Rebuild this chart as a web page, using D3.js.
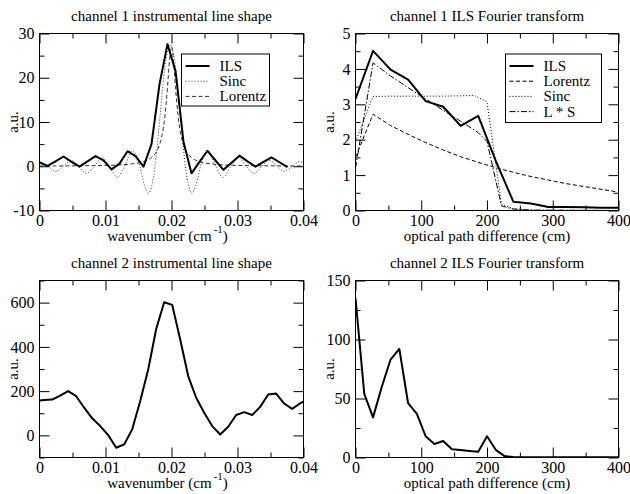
<!DOCTYPE html>
<html><head><meta charset="utf-8">
<script src="https://cdn.jsdelivr.net/npm/d3@7"></script>
<style>
body{margin:0;background:#fff}
</style>
</head><body><svg id="c" width="630" height="494"></svg>
<script>
// ---------- channel 1 instrumental line shape ----------
const ch1IlsX = [0, 0.00121, 0.00242, 0.00364, 0.00485, 0.00606, 0.00727, 0.00848, 0.00970, 0.01091, 0.01212, 0.01333, 0.01455, 0.01576, 0.01697, 0.01818, 0.01939, 0.02061, 0.02182, 0.02303, 0.02424, 0.02545, 0.02667, 0.02788, 0.02909, 0.03030, 0.03152, 0.03273, 0.03394, 0.03515, 0.03636, 0.03758];
const ch1IlsY = [0.9, 0.1, 1.1, 2.2, 1.0, -0.1, 1.1, 2.3, 1.3, -0.7, 0.6, 3.4, 2.3, -0.1, 5.0, 18.5, 27.6, 21.5, 5.5, -1.6, 1.0, 3.5, 1.3, -0.8, 0.8, 2.4, 1.1, -0.1, 1.0, 2.0, 0.9, -0.2];
const ch1SincX = [0, 0.0013, 0.0025, 0.0036, 0.0048, 0.0059, 0.0071, 0.0083, 0.0095, 0.0106, 0.0118, 0.0129, 0.0141, 0.0152, 0.0159, 0.0165, 0.0171, 0.0175, 0.0178, 0.0183, 0.0188, 0.0193, 0.0198, 0.0203, 0.0208, 0.0213, 0.0218, 0.0221, 0.0225, 0.0231, 0.0237, 0.0244, 0.0255, 0.0267, 0.0278, 0.0290, 0.0302, 0.0313, 0.0325, 0.0337, 0.0348, 0.0360, 0.0371, 0.0383, 0.0394, 0.0400];
const ch1SincY = [0.6, 0, -1.17, 0, 1.35, 0, -1.6, 0, 1.95, 0, -2.52, 0, 3.56, 0, -4.3, -6.1, -3.8, 0, 4.1, 12.0, 19.8, 25.4, 27.5, 25.4, 19.8, 12.0, 4.1, 0, -3.8, -6.1, -4.3, 0, 3.56, 0, -2.52, 0, 1.95, 0, -1.6, 0, 1.35, 0, -1.17, 0, 1.03, 0.8];
const ch1LorX = [0, 0.004, 0.008, 0.012, 0.014, 0.016, 0.017, 0.018, 0.0185, 0.019, 0.0194, 0.0197, 0.0200, 0.0203, 0.0206, 0.021, 0.0215, 0.022, 0.023, 0.024, 0.026, 0.028, 0.032, 0.036, 0.04];
const ch1LorY = [0.05, 0.08, 0.14, 0.30, 0.53, 1.17, 2.0, 4.1, 6.6, 11.3, 18.0, 24.0, 27.0, 24.0, 18.0, 11.3, 6.6, 4.1, 2.0, 1.17, 0.53, 0.30, 0.14, 0.08, 0.05];

// ---------- channel 1 ILS Fourier transform ----------
const ft1X = [0, 26.67, 53.33, 80, 106.67, 133.33, 160, 186.67, 213.33, 240, 266.67, 293.33, 320, 346.67, 373.33, 400];
const ft1Ils = [3.15, 4.51, 3.98, 3.70, 3.09, 2.93, 2.39, 2.67, 1.4, 0.25, 0.2, 0.1, 0.1, 0.09, 0.08, 0.08];
const ft1Lor = [1.5, 2.72, 2.40, 2.15, 1.92, 1.71, 1.52, 1.36, 1.21, 1.08, 0.96, 0.86, 0.76, 0.68, 0.60, 0.52];
const ft1SincX = [0, 26.67, 53.33, 80, 106.67, 133.33, 160, 180, 200, 222, 240, 270, 400];
const ft1SincY = [1.95, 3.22, 3.23, 3.23, 3.23, 3.23, 3.24, 3.25, 3.07, 0.18, 0.05, 0.01, 0.0];
const ft1LSX = [0, 26.67, 53.33, 80, 106.67, 133.33, 160, 186.67, 200, 222, 240, 270, 400];
const ft1LSY = [1.2, 4.17, 3.80, 3.47, 3.15, 2.83, 2.52, 2.2, 1.95, 0.13, 0.04, 0.01, 0.0];

// ---------- channel 2 instrumental line shape ----------
const ch2X = [0, 0.00071, 0.00192, 0.00313, 0.00435, 0.00556, 0.00677, 0.00798, 0.00920, 0.01041, 0.01162, 0.01283, 0.01404, 0.01526, 0.01647, 0.01768, 0.01889, 0.02010, 0.02132, 0.02253, 0.02374, 0.02495, 0.02617, 0.02738, 0.02859, 0.02980, 0.03101, 0.03223, 0.03344, 0.03465, 0.03586, 0.03707, 0.03829, 0.03950, 0.0400];
const ch2Y = [158, 160, 162, 180, 200, 177, 125, 77, 42, 1, -56, -41, 27, 155, 298, 481, 602, 590, 433, 268, 170, 102, 42, 4, 39, 92, 105, 92, 129, 185, 189, 144, 120, 145, 153];

// ---------- channel 2 ILS Fourier transform ----------
const ft2X = [0, 13.33, 26.67, 40, 53.33, 66.67, 80, 93.33, 106.67, 120, 133.33, 146.67, 160, 173.33, 186.67, 200, 213.33, 226.67, 240, 253.33, 266.67, 280, 293.33, 306.67, 320, 333.33, 346.67, 360, 373.33, 386.67, 400];
const ft2Y = [135, 54, 34, 60, 83, 92, 46, 37, 18, 11.5, 14, 7, 6.3, 5.5, 4.8, 18, 6.5, 1.2, 0.4, 0.3, 0.3, 0.3, 0.2, 0.2, 0.2, 0.3, 0.3, 0.2, 0.2, 0.2, 0.2];

// ---------- ticks ----------
const waveTicks = [0, 0.01, 0.02, 0.03, 0.04];
const waveLabels = ["0", "0.01", "0.02", "0.03", "0.04"];
const waveMinor = [0.005, 0.015, 0.025, 0.035];
const opdTicks = [0, 100, 200, 300, 400];
const opdLabels = ["0", "100", "200", "300", "400"];
const opdMinor = [50, 150, 250, 350];
const y1Ticks = [-10, 0, 10, 20, 30], y1Labels = ["-10", "0", "10", "20", "30"], y1Minor = [-5, 5, 15, 25];
const y2Ticks = [0, 1, 2, 3, 4, 5], y2Labels = ["0", "1", "2", "3", "4", "5"], y2Minor = [0.5, 1.5, 2.5, 3.5, 4.5];
const y3Ticks = [0, 200, 400, 600], y3Labels = ["0", "200", "400", "600"], y3Minor = [-100, 100, 300, 500, 700];
const y4Ticks = [0, 50, 100, 150], y4Labels = ["0", "50", "100", "150"], y4Minor = [25, 75, 125];

const FONT = '"Liberation Serif", "Times New Roman", serif';
const svg = d3.select('#c').style('font-family', FONT);
const defs = svg.append('defs');

function panel(o) {
  const x = d3.scaleLinear().domain(o.xd).range([o.l, o.r]);
  const y = d3.scaleLinear().domain(o.yd).range([o.b, o.t]);
  const g = svg.append('g');
  defs.append('clipPath').attr('id', 'cl' + o.id).append('rect')
    .attr('x', o.l).attr('y', o.t).attr('width', o.r - o.l).attr('height', o.b - o.t);
  o.series.forEach(s => {
    const line = d3.line().x((d, i) => x(s.x[i])).y(d => y(d)).curve(s.curve || d3.curveLinear);
    g.append('path').attr('d', line(s.y)).attr('clip-path', `url(#cl${o.id})`)
      .attr('fill', 'none').attr('stroke', s.c || '#000').attr('stroke-width', s.w)
      .attr('stroke-dasharray', s.dash || null).attr('stroke-linejoin', 'round');
  });
  const style = sel => {
    sel.select('.domain').remove();
    sel.attr('font-family', null).attr('font-size', null);
    sel.selectAll('text').style('font-family', FONT).style('font-size', '16px').attr('fill', '#000');
    sel.selectAll('line').attr('stroke', '#000');
  };
  const fmt = labels => (d, i) => labels[i];
  g.append('g').attr('transform', `translate(0,${o.b})`)
    .call(d3.axisBottom(x).tickValues(o.xt).tickSize(-10).tickPadding(4).tickFormat(fmt(o.xl))).call(style);
  g.append('g').attr('transform', `translate(0,${o.b})`)
    .call(d3.axisBottom(x).tickValues(o.xm).tickSize(-5).tickFormat('')).call(style);
  g.append('g').attr('transform', `translate(0,${o.t})`)
    .call(d3.axisTop(x).tickValues(o.xt).tickSize(-10).tickFormat('')).call(style);
  g.append('g').attr('transform', `translate(0,${o.t})`)
    .call(d3.axisTop(x).tickValues(o.xm).tickSize(-5).tickFormat('')).call(style);
  g.append('g').attr('transform', `translate(${o.l},0)`)
    .call(d3.axisLeft(y).tickValues(o.yt).tickSize(-10).tickPadding(5).tickFormat(fmt(o.yl))).call(style);
  g.append('g').attr('transform', `translate(${o.l},0)`)
    .call(d3.axisLeft(y).tickValues(o.ym).tickSize(-5).tickFormat('')).call(style);
  g.append('g').attr('transform', `translate(${o.r},0)`)
    .call(d3.axisRight(y).tickValues(o.yt).tickSize(-10).tickFormat('')).call(style);
  g.append('g').attr('transform', `translate(${o.r},0)`)
    .call(d3.axisRight(y).tickValues(o.ym).tickSize(-5).tickFormat('')).call(style);
  g.append('rect').attr('x', o.l).attr('y', o.t).attr('width', o.r - o.l).attr('height', o.b - o.t)
    .attr('fill', 'none').attr('stroke', '#000').attr('stroke-width', 1);
  g.append('text').attr('x', (o.l + o.r) / 2).attr('y', o.t - 13).attr('text-anchor', 'middle')
    .style('font-family', FONT).style('font-size', '15px').text(o.title);
  const xl = g.append('text').attr('x', (o.l + o.r) / 2 - (o.sup ? 4 : 0)).attr('y', o.b + 30).attr('text-anchor', 'middle')
    .style('font-family', FONT).style('font-size', '15px');
  if (o.sup) {
    xl.append('tspan').text(o.xlabel);
    xl.append('tspan').attr('dy', -8).attr('dx', 2).style('font-size', '11px').text(o.sup);
    xl.append('tspan').attr('dy', 8).text(')');
  } else xl.text(o.xlabel);
  g.append('text').attr('transform', `translate(${o.l - 22},${(o.t + o.b) / 2}) rotate(-90)`)
    .attr('text-anchor', 'middle').style('font-family', FONT).style('font-size', '15px').text('a.u.');
  if (o.legend) {
    const L = o.legend;
    g.append('rect').attr('x', L.x).attr('y', L.y).attr('width', L.w).attr('height', L.h)
      .attr('fill', '#fff').attr('stroke', '#000').attr('stroke-width', 1);
    L.items.forEach((it, i) => {
      const yy = L.y + 12 + i * 15.2;
      g.append('line').attr('x1', L.x + 4).attr('x2', L.x + 28).attr('y1', yy).attr('y2', yy)
        .attr('stroke', it.c || '#000').attr('stroke-width', it.w).attr('stroke-dasharray', it.dash || null);
      g.append('text').attr('x', L.x + 38).attr('y', yy + 5)
        .style('font-family', FONT).style('font-size', '15px').text(it.name);
    });
  }
}

const DOT = '1,2', DASH = '4,2.5', DASHDOT = '6,2,1.5,2';

panel({id: 1, l: 39.5, r: 303.5, t: 33.5, b: 210.5, xd: [0, 0.04], yd: [-10, 30],
  xt: waveTicks, xl: waveLabels, xm: waveMinor, yt: y1Ticks, yl: y1Labels, ym: y1Minor,
  title: 'channel 1 instrumental line shape', xlabel: 'wavenumber (cm', sup: '-1',
  series: [
    {x: ch1SincX, y: ch1SincY, w: 1, dash: DOT, curve: d3.curveMonotoneX, c: '#333'},
    {x: ch1LorX, y: ch1LorY, w: 1, dash: DASH, curve: d3.curveMonotoneX, c: '#333'},
    {x: ch1IlsX, y: ch1IlsY, w: 2}
  ],
  legend: {x: 181.5, y: 54, w: 88, h: 52, items: [
    {name: 'ILS', w: 2}, {name: 'Sinc', w: 1, dash: DOT, c: '#333'}, {name: 'Lorentz', w: 1, dash: DASH, c: '#333'}]}
});

panel({id: 2, l: 355.5, r: 618.5, t: 33.5, b: 210.5, xd: [0, 400], yd: [0, 5],
  xt: opdTicks, xl: opdLabels, xm: opdMinor, yt: y2Ticks, yl: y2Labels, ym: y2Minor,
  title: 'channel 1 ILS Fourier transform', xlabel: 'optical path difference (cm)',
  series: [
    {x: ft1X, y: ft1Lor, w: 1, dash: DASH},
    {x: ft1SincX, y: ft1SincY, w: 1, dash: DOT},
    {x: ft1LSX, y: ft1LSY, w: 1, dash: DASHDOT},
    {x: ft1X, y: ft1Ils, w: 2}
  ],
  legend: {x: 505.5, y: 54, w: 96, h: 68.5, items: [
    {name: 'ILS', w: 2}, {name: 'Lorentz', w: 1, dash: DASH}, {name: 'Sinc', w: 1, dash: DOT}, {name: 'L * S', w: 1, dash: DASHDOT}]}
});

panel({id: 3, l: 39.5, r: 303.5, t: 280.5, b: 457.5, xd: [0, 0.04], yd: [-100, 700],
  xt: waveTicks, xl: waveLabels, xm: waveMinor, yt: y3Ticks, yl: y3Labels, ym: y3Minor,
  title: 'channel 2 instrumental line shape', xlabel: 'wavenumber (cm', sup: '-1',
  series: [{x: ch2X, y: ch2Y, w: 2}]
});

panel({id: 4, l: 355.5, r: 618.5, t: 280.5, b: 457.5, xd: [0, 400], yd: [0, 150],
  xt: opdTicks, xl: opdLabels, xm: opdMinor, yt: y4Ticks, yl: y4Labels, ym: y4Minor,
  title: 'channel 2 ILS Fourier transform', xlabel: 'optical path difference (cm)',
  series: [{x: ft2X, y: ft2Y, w: 2}]
});
</script>
</body></html>
